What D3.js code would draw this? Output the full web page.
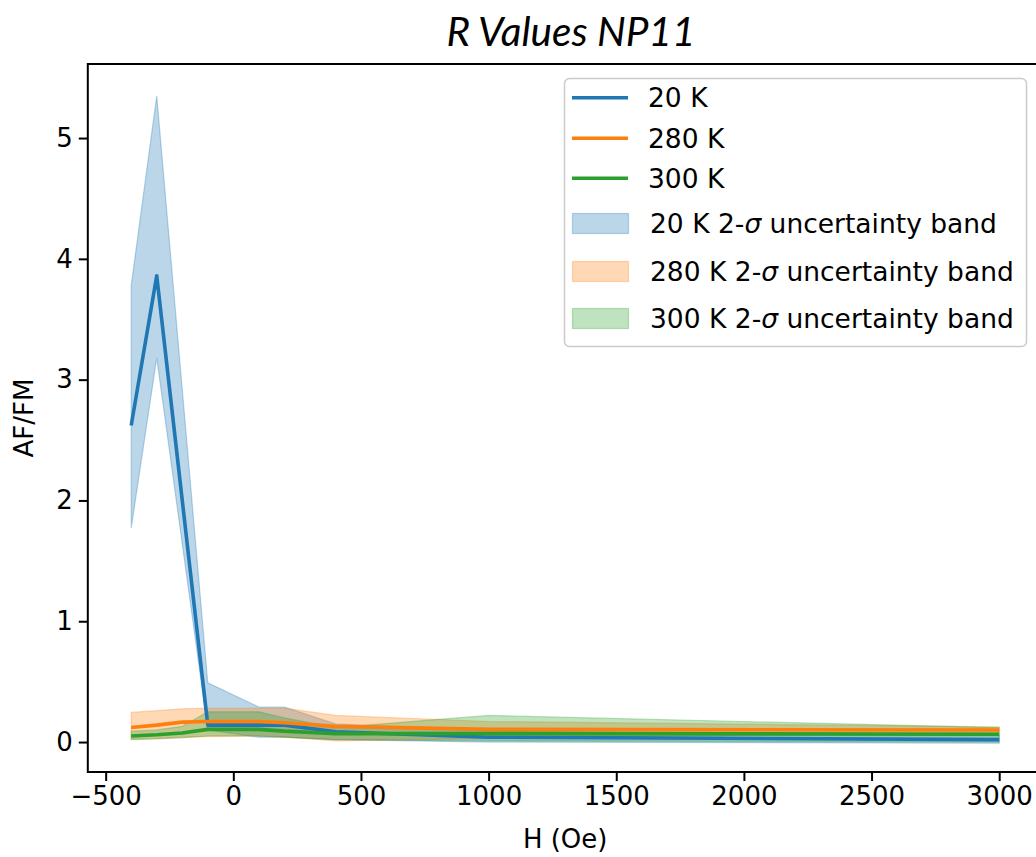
<!DOCTYPE html>
<html>
<head>
<meta charset="utf-8">
<script src="https://cdn.jsdelivr.net/npm/d3@7"></script>
<style>
  body { margin: 0; background: #fff; }
  svg { display: block; }
</style>
</head>
<body>
<svg id="drawing_region"></svg>
<script>
// field values (Oe)
const fields = [-400, -300, -200, -100, 100, 200, 400, 1000, 3000];

// AF/FM ratio for each temperature
const r20  = [2.62, 3.86, 2.00, 0.14, 0.14, 0.14, 0.085, 0.04, 0.02];
const r280 = [0.12, 0.14, 0.165, 0.17, 0.17, 0.16, 0.13, 0.105, 0.10];
const r300 = [0.05, 0.06, 0.075, 0.105, 0.105, 0.09, 0.07, 0.07, 0.065];

// 2-sigma bands
const lo20  = [1.77, 3.18, 1.64, 0.10, 0.04, 0.04, 0.02, 0.00, -0.01];
const hi20  = [3.78, 5.35, 2.92, 0.49, 0.29, 0.29, 0.15, 0.09, 0.06];
const lo280 = [0.025, 0.03, 0.04, 0.045, 0.05, 0.04, 0.01, 0.03, 0.08];
const hi280 = [0.245, 0.26, 0.275, 0.28, 0.28, 0.28, 0.22, 0.17, 0.125];
const lo300 = [0.02, 0.025, 0.035, 0.05, 0.05, 0.04, 0.02, 0.01, 0.00];
const hi300 = [0.09, 0.10, 0.13, 0.25, 0.25, 0.20, 0.12, 0.22, 0.12];

const seriesNames = ['20 K', '280 K', '300 K'];
const xTicks = [-500, 0, 500, 1000, 1500, 2000, 2500, 3000];
const yTicks = [0, 1, 2, 3, 4, 5];

const colors = ['#1f77b4', '#ff7f0e', '#2ca02c'];

const series = [
    { name: seriesNames[0], r: r20,  lo: lo20,  hi: hi20 },
    { name: seriesNames[1], r: r280, lo: lo280, hi: hi280 },
    { name: seriesNames[2], r: r300, lo: lo300, hi: hi300 }
].map((s, i) => ({
    name: s.name,
    color: colors[i],
    points: fields.map((f, j) => ({ x: f, y: s.r[j], lo: s.lo[j], hi: s.hi[j] }))
}));

const width = 1036, height = 857;
const margin = { top: 64, left: 87.8 };
const plotRight = 1042.6, plotBottom = 772;

const svg = d3.select('#drawing_region')
    .attr('width', width)
    .attr('height', height)
    .style('font-family', '"DejaVu Sans", sans-serif');

svg.append('rect').attr('width', width).attr('height', height).attr('fill', '#fff');

const xscale = d3.scaleLinear()
    .domain([-570, 3170])
    .range([margin.left, plotRight]);

const yscale = d3.scaleLinear()
    .domain([-0.248, 5.613])
    .range([plotBottom, margin.top]);

const area = d3.area()
    .x(d => xscale(d.x))
    .y0(d => yscale(d.lo))
    .y1(d => yscale(d.hi));

const line = d3.line()
    .x(d => xscale(d.x))
    .y(d => yscale(d.y));

const chart = svg.append('g');

// bands below lines
chart.selectAll('.band')
    .data(series)
    .join('path')
    .attr('class', 'band')
    .attr('d', d => area(d.points))
    .attr('fill', d => d.color)
    .attr('fill-opacity', 0.3)
    .attr('stroke', d => d.color)
    .attr('stroke-opacity', 0.3)
    .attr('stroke-width', 1.2);

chart.selectAll('.line')
    .data(series)
    .join('path')
    .attr('class', 'line')
    .attr('d', d => line(d.points))
    .attr('fill', 'none')
    .attr('stroke', d => d.color)
    .attr('stroke-width', 3.6)
    .attr('stroke-linejoin', 'round');

// axes
const xaxis = d3.axisBottom(xscale)
    .tickValues(xTicks)
    .tickFormat(d3.format('d'))
    .tickSize(9)
    .tickPadding(6)
    .tickSizeOuter(0);

const yaxis = d3.axisLeft(yscale)
    .tickValues(yTicks)
    .tickFormat(d3.format('d'))
    .tickSize(9)
    .tickPadding(6)
    .tickSizeOuter(0);

const xaxis_group = svg.append('g')
    .attr('transform', `translate(0, ${plotBottom})`)
    .call(xaxis);

const yaxis_group = svg.append('g')
    .attr('transform', `translate(${margin.left}, 0)`)
    .call(yaxis);

[xaxis_group, yaxis_group].forEach(g => {
    g.selectAll('.domain').remove();
    g.selectAll('.tick line').attr('stroke', '#000').attr('stroke-width', 2);
    g.selectAll('.tick text')
        .attr('fill', '#000')
        .style('font-size', '26px')
        .style('font-family', '"DejaVu Sans", sans-serif');
});

// frame
svg.append('rect')
    .attr('x', margin.left)
    .attr('y', margin.top)
    .attr('width', plotRight - margin.left)
    .attr('height', plotBottom - margin.top)
    .attr('fill', 'none')
    .attr('stroke', '#000')
    .attr('stroke-width', 2);

// labels
svg.append('text')
    .attr('x', (margin.left + plotRight) / 2)
    .attr('y', 848)
    .attr('text-anchor', 'middle')
    .style('font-size', '26px')
    .text('H (Oe)');

svg.append('text')
    .attr('transform', `translate(33, ${(margin.top + plotBottom) / 2}) rotate(-90)`)
    .attr('text-anchor', 'middle')
    .style('font-size', '26px')
    .text('AF/FM');

svg.append('text')
    .attr('x', 571)
    .attr('y', 46)
    .attr('text-anchor', 'middle')
    .style('font-family', 'Lato, sans-serif')
    .style('font-style', 'italic')
    .style('font-size', '40.5px')
    .text('R Values NP11');

// legend
const legend = svg.append('g');
legend.append('rect')
    .attr('x', 564.5)
    .attr('y', 78.5)
    .attr('width', 462)
    .attr('height', 268)
    .attr('rx', 5)
    .attr('fill', '#fff')
    .attr('fill-opacity', 0.8)
    .attr('stroke', '#cccccc')
    .attr('stroke-width', 1.5);

const rowY = [97.7, 138.3, 178.3, 223.5, 271.5, 318.5];

series.forEach((s, i) => {
    legend.append('line')
        .attr('x1', 572).attr('x2', 628)
        .attr('y1', rowY[i]).attr('y2', rowY[i])
        .attr('stroke', s.color)
        .attr('stroke-width', 3.6);
    legend.append('text')
        .attr('x', 648)
        .attr('y', rowY[i] + 9.5)
        .style('font-size', '26.5px')
        .text(s.name);
});

series.forEach((s, i) => {
    const y = rowY[i + 3];
    legend.append('rect')
        .attr('x', 572.5).attr('y', y - 10)
        .attr('width', 56).attr('height', 20)
        .attr('fill', s.color).attr('fill-opacity', 0.3)
        .attr('stroke', s.color).attr('stroke-opacity', 0.3)
        .attr('stroke-width', 1.2);
    const t = legend.append('text')
        .attr('x', 650)
        .attr('y', y + 9.5)
        .style('font-size', '26.5px');
    t.append('tspan').text(s.name + ' 2-');
    t.append('tspan').style('font-style', 'italic').text('σ');
    t.append('tspan').text(' uncertainty band');
});
</script>
</body>
</html>
